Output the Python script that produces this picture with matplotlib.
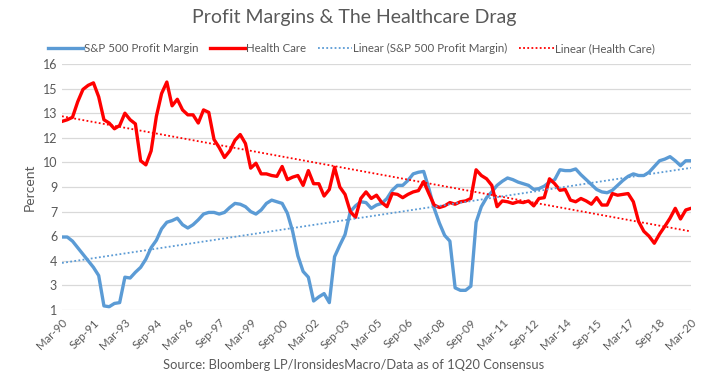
import numpy as np
import matplotlib
matplotlib.use("Agg")
import matplotlib.pyplot as plt

# quarterly data, Mar-90 .. Mar-20
sp500_margin = [
    5.45, 5.45, 5.2, 4.8, 4.4, 4.0, 3.6, 3.1, 1.25, 1.2,
    1.4, 1.45, 3.0, 2.95, 3.3, 3.6, 4.1, 4.8, 5.25, 5.95,
    6.35, 6.45, 6.6, 6.2, 6.0, 6.2, 6.5, 6.85, 6.95, 6.95,
    6.85, 6.95, 7.25, 7.5, 7.45, 7.3, 7.0, 6.85, 7.1, 7.5,
    7.7, 7.6, 7.5, 6.9, 5.8, 4.3, 3.35, 3.0, 1.55, 1.8,
    2.0, 1.45, 4.25, 4.95, 5.6, 7.0, 7.35, 7.6, 7.55, 7.2,
    7.4, 7.5, 7.8, 8.3, 8.6, 8.6, 8.9, 9.3, 9.4, 9.45,
    8.4, 7.2, 6.3, 5.55, 5.2, 2.35, 2.2, 2.2, 2.45, 6.35,
    7.3, 7.85, 8.2, 8.6, 8.85, 9.05, 8.95, 8.8, 8.7, 8.6,
    8.35, 8.4, 8.55, 8.8, 8.95, 9.55, 9.5, 9.5, 9.6, 9.25,
    8.95, 8.65, 8.35, 8.2, 8.15, 8.3, 8.6, 8.9, 9.15, 9.3,
    9.2, 9.2, 9.4, 9.75, 10.1, 10.2, 10.35, 10.1, 9.8, 10.1,
    10.1,
]
health_care = [
    12.5, 12.6, 12.75, 13.7, 14.45, 14.7, 14.85, 14.0, 12.6, 12.4,
    12.05, 12.25, 13.0, 12.6, 12.35, 10.1, 9.85, 10.7, 12.8, 14.2,
    14.9, 13.45, 13.85, 13.2, 12.9, 12.9, 12.4, 13.2, 13.05, 11.4,
    10.9, 10.3, 10.7, 11.35, 11.7, 11.15, 9.65, 9.95, 9.3, 9.3,
    9.2, 9.15, 9.75, 8.95, 9.1, 9.2, 8.6, 9.5, 8.7, 8.7,
    7.95, 8.35, 9.7, 8.5, 8.05, 7.0, 6.65, 7.8, 8.2, 7.8,
    8.0, 7.55, 7.3, 8.1, 8.05, 7.85, 8.05, 8.2, 8.28, 8.83,
    8.1, 7.4, 7.25, 7.35, 7.55, 7.45, 7.6, 7.65, 7.8, 9.55,
    9.2, 9.0, 8.6, 7.3, 7.65, 7.6, 7.5, 7.6, 7.55, 7.65,
    7.35, 7.8, 7.85, 9.0, 8.7, 8.3, 8.35, 7.7, 7.6, 7.8,
    7.65, 7.45, 7.85, 7.4, 7.4, 8.1, 8.0, 8.05, 8.1, 7.6,
    6.4, 5.8, 5.5, 5.07, 5.63, 6.1, 6.6, 7.2, 6.55, 7.1,
    7.2,
]
x_labels = ['Mar-90', 'Sep-91', 'Mar-93', 'Sep-94', 'Mar-96', 'Sep-97', 'Mar-99',
            'Sep-00', 'Mar-02', 'Sep-03', 'Mar-05', 'Sep-06', 'Mar-08', 'Sep-09',
            'Mar-11', 'Sep-12', 'Mar-14', 'Sep-15', 'Mar-17', 'Sep-18', 'Mar-20']
y_ticks = [1, 2.5, 4, 5.5, 7, 8.5, 10, 11.5, 13, 14.5, 16]
y_labels = ['1', '3', '4', '6', '7', '9', '10', '12', '13', '15', '16']

plt.rcParams['font.family'] = ['Lato', 'DejaVu Sans']
txt = '#595959'
blue = '#5B9BD5'
red = '#FF0000'

fig = plt.figure(figsize=(7.08, 3.79), dpi=100)
ax = fig.add_axes([62/708, 1-310/379, 629/708, 246/379])

q = np.arange(len(sp500_margin))
ax.plot(q, sp500_margin, color=blue, lw=2.4, label='S&P 500 Profit Margin', solid_joinstyle='round')
ax.plot(q, health_care, color=red, lw=2.4, label='Health Care', solid_joinstyle='round')

# excel style linear trendlines
for series, col, name in [(sp500_margin, blue, 'Linear (S&P 500 Profit Margin)'),
                          (health_care, red, 'Linear (Health Care)')]:
    k, b = np.polyfit(q, series, 1)
    ax.plot(q, k*q+b, color=col, lw=1.3, ls=(0, (1, 1.3)), label=name)

ax.set_xlim(0, len(q)-1)
ax.set_ylim(1, 16)
ax.set_yticks(y_ticks)
ax.set_yticklabels(y_labels)
ax.set_xticks(q[::6])
ax.set_xticklabels(x_labels, rotation=45, ha='right', rotation_mode='anchor')
ax.tick_params(length=0, colors=txt, labelsize=9)
ax.tick_params(axis='x', pad=5, labelsize=8.3)
ax.grid(axis='y', color='#d9d9d9', lw=0.9)
ax.set_axisbelow(True)
for s in ax.spines.values():
    s.set_visible(False)
ax.set_ylabel('Percent', color=txt, fontsize=10, labelpad=5)

fig.suptitle('Profit Margins & The Healthcare Drag', y=0.975, color=txt, fontsize=14)
fig.legend(loc='center', bbox_to_anchor=(0.4965, 0.871), ncol=4, frameon=False,
           fontsize=8.3, handlelength=3.0, handletextpad=0.1, columnspacing=1.0,
           labelcolor=txt)
fig.text(0.5, 0.037, 'Source: Bloomberg LP/IronsidesMacro/Data as of 1Q20 Consensus',
         ha='center', va='center', color=txt, fontsize=9.3)

fig.savefig('out.png', dpi=100)
